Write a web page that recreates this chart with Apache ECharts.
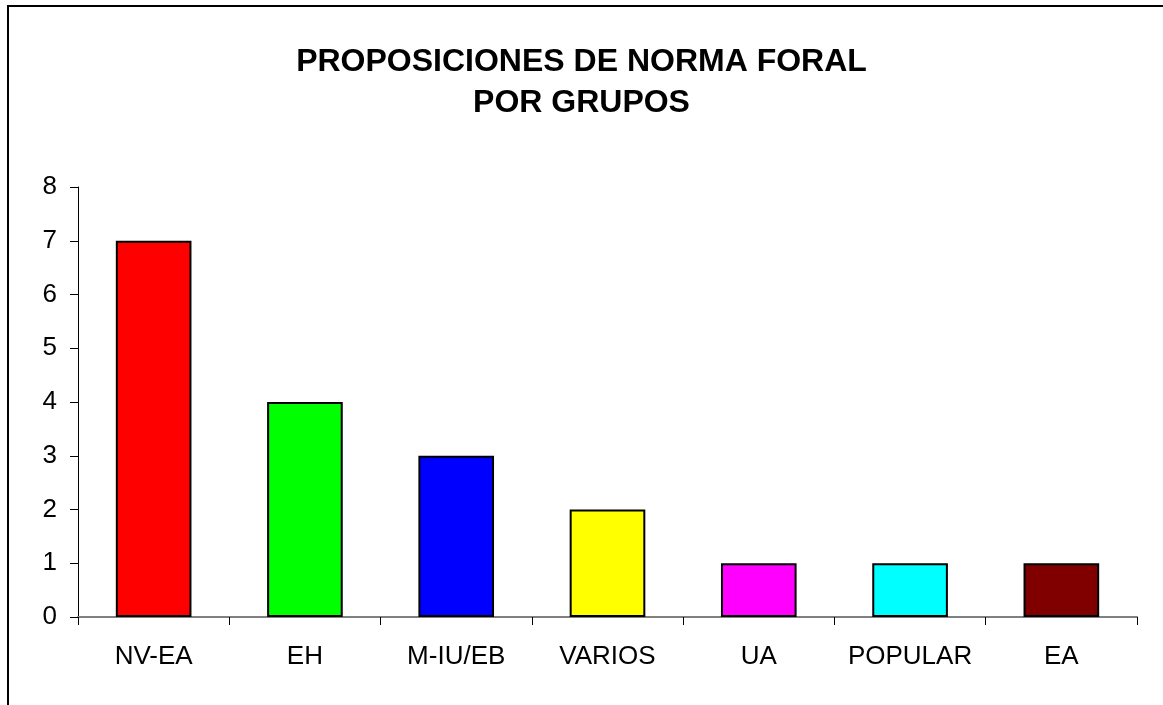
<!DOCTYPE html>
<html>
<head>
<meta charset="utf-8">
<script src="https://cdn.jsdelivr.net/npm/echarts@6/dist/echarts.min.js"></script>
<style>
  html, body { margin: 0; padding: 0; background: #fff; }
  #barsChart { width: 1163px; height: 705px; }
</style>
</head>
<body>
<div id="barsChart"></div>
<script>
// datos
const grupos = ['NV-EA', 'EH', 'M-IU/EB', 'VARIOS', 'UA', 'POPULAR', 'EA']
const proposiciones = [7, 4, 3, 2, 1, 1, 1]
const colores = ['#ff0000', '#00ff00', '#0000ff', '#ffff00', '#ff00ff', '#00ffff', '#800000']
const tituloLineas = ['PROPOSICIONES DE NORMA FORAL', 'POR GRUPOS']

let myChart = echarts.init(document.getElementById('barsChart'))
myChart.setOption({
  animation: false,
  backgroundColor: '#ffffff',
  textStyle: { fontFamily: 'Liberation Sans, Arial, sans-serif' },
  title: {
    text: tituloLineas.join('\n'),
    left: 'center',
    top: 37,
    textStyle: {
      fontFamily: 'Liberation Sans, Arial, sans-serif',
      fontSize: 32,
      fontWeight: 'bold',
      color: '#000',
      lineHeight: 41
    }
  },
  // marco del gráfico
  graphic: [{
    type: 'rect',
    shape: { x: 8, y: 6, width: 1300, height: 900 },
    style: { fill: 'none', stroke: '#000', lineWidth: 2 },
    silent: true
  }],
  grid: {
    left: 78,
    right: 26,
    top: 187,
    bottom: 88
  },
  xAxis: {
    type: 'category',
    data: grupos,
    axisLine: { show: true, lineStyle: { color: '#808080', width: 2 } },
    axisTick: { show: true, interval: 0, alignWithLabel: false, length: 8, lineStyle: { color: '#000', width: 1 } },
    axisLabel: { color: '#000', fontSize: 26, margin: 27, interval: 0 }
  },
  yAxis: {
    type: 'value',
    min: 0,
    max: 8,
    interval: 1,
    splitLine: { show: false },
    axisLine: { show: true, lineStyle: { color: '#000', width: 1 } },
    axisTick: { show: true, length: 8, lineStyle: { color: '#000', width: 1 } },
    axisLabel: { color: '#000', fontSize: 26, margin: 21 }
  },
  series: [{
    type: 'bar',
    data: proposiciones.map((v, i) => ({
      value: v,
      itemStyle: { color: colores[i] }
    })),
    barWidth: '50%',
    itemStyle: { borderColor: '#000', borderWidth: 2 }
  }]
})
</script>
</body>
</html>
